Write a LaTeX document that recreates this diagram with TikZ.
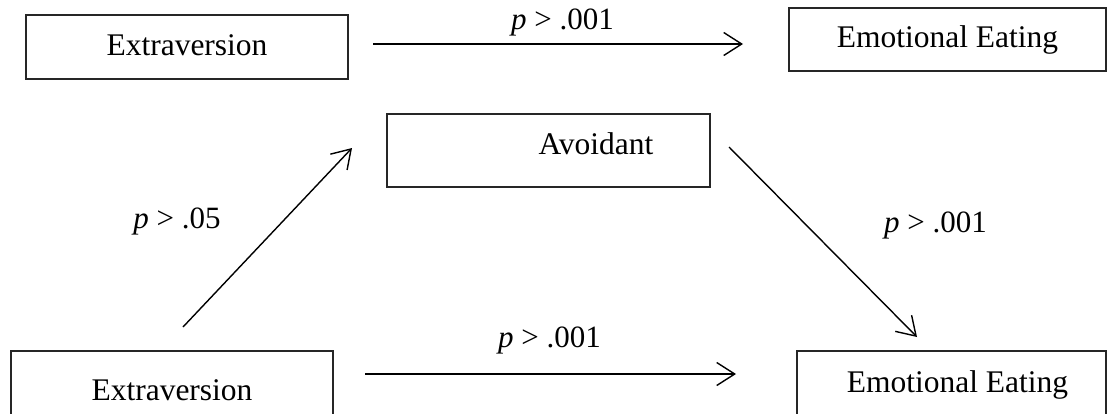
\documentclass[tikz,border=0pt]{standalone}
\usepackage{fontspec}
\setmainfont{Liberation Serif}
\usetikzlibrary{arrows.meta}
\begin{document}
\begin{tikzpicture}[x=1pt,y=-1pt,
  box/.style={draw=black!85, line width=1.2pt, inner sep=0pt,
    font=\fontsize{31.5}{36}\selectfont, text height=22pt, text depth=6pt},
  arr/.style={line width=1.4pt,
    -{Straight Barb[length=18pt,width=23pt,line width=1.4pt]}},
  plabel/.style={anchor=base, font=\fontsize{31}{36}\selectfont}]
\useasboundingbox (0,0) rectangle (1108,413);
\clip (0,0) rectangle (1108,413);

% variables
\node[box, minimum width=322pt, minimum height=64pt] (ext1) at (187,47) {Extraversion};
\node[box, minimum width=317pt, minimum height=63pt] (ee1) at (947.5,39.5) {Emotional Eating};
\node[box, minimum width=323pt, minimum height=73pt, text depth=15pt] (avoid) at (548.5,150.5) {\hspace*{95pt}Avoidant};
\node[box, minimum width=322pt, minimum height=80pt, text depth=4pt] (ext2) at (172,391) {Extraversion};
\node[box, minimum width=309pt, minimum height=80pt, text depth=20pt] (ee2) at (951.5,391) {\hspace*{12pt}Emotional Eating};

% path ends
\coordinate (a1s) at (373,44);  \coordinate (a1e) at (743,44);
\coordinate (a2s) at (183,327); \coordinate (a2e) at (352,148);
\coordinate (a3s) at (729,147); \coordinate (a3e) at (917,337);
\coordinate (a4s) at (365,374); \coordinate (a4e) at (736,374);

\draw[arr] (a1s) -- (a1e);
\draw[arr] (a2s) -- (a2e);
\draw[arr] (a3s) -- (a3e);
\draw[arr] (a4s) -- (a4e);

% significance labels
\node[plabel] (l1) at (562.5,29) {\textit{p} > .001};
\node[plabel] (l2) at (177,228) {\textit{p} > .05};
\node[plabel] (l3) at (935.5,232) {\textit{p} > .001};
\node[plabel] (l4) at (549.5,347) {\textit{p} > .001};
\end{tikzpicture}
\end{document}
